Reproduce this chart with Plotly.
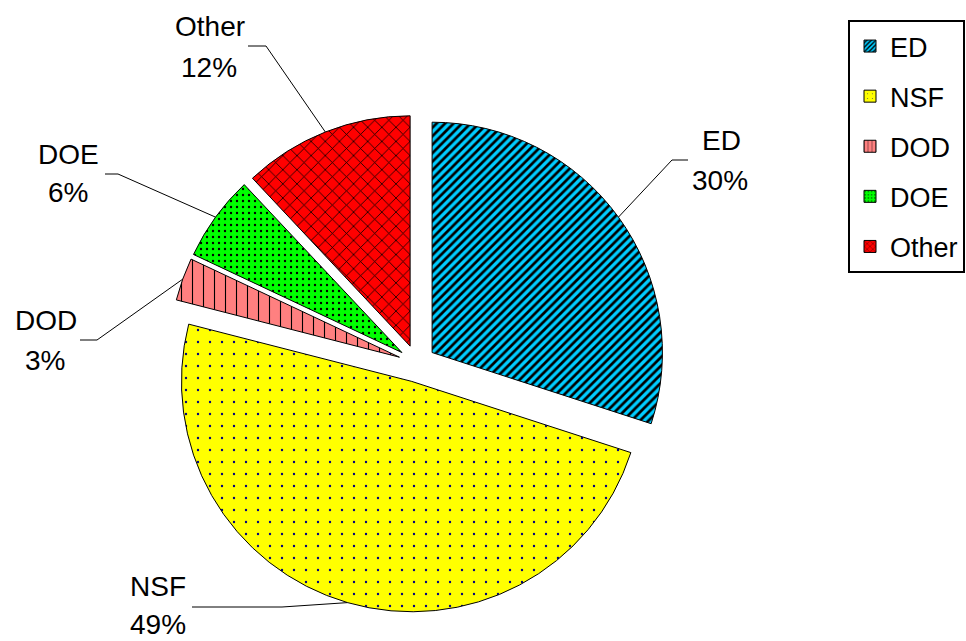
import math
import plotly.graph_objects as go

# ---- data ----
labels = ["ED", "NSF", "DOD", "DOE", "Other"]
values = [30, 49, 3, 6, 12]

# ---- style ----
W, H = 966, 641
colors = ["#00CCFF", "#FFFF00", "#FF8080", "#00FF00", "#FF0000"]
pat_shapes = ["/", ".", "|", ".", "x"]
pat_fg = ["#000000", "#000080", "#000000", "#000000", "#000000"]
pat_size = [6, 12, 11, 6, 10]
pat_solid = [0.45, 0.03, 0.1, 0.12, 0.15]
FONT = "Arial, Liberation Sans, sans-serif"
PIE_BOX = (168, 114.5, 666, 612.5)   # pixel box of pie domain (x0, y0, x1, y1)
PULL = 0.081

# label layout (pixels): name centre, percent centre, elbow, line end
label_layout = {
    "ED":    dict(name=(721, 140), pct=(720, 180), elbow=(672, 160), end=(688, 160)),
    "NSF":   dict(name=(158, 586), pct=(158, 624), elbow=(282, 607), end=(192, 607)),
    "DOD":   dict(name=(46, 320), pct=(45, 360), elbow=(97, 340), end=(80, 340)),
    "DOE":   dict(name=(68, 155), pct=(68, 193), elbow=(118, 174), end=(105, 174)),
    "Other": dict(name=(210, 27), pct=(209, 67), elbow=(266, 46), end=(248, 46)),
}


def px(x):
    return x / W


def py(y):
    return 1 - y / H


x0, y0, x1, y1 = PIE_BOX
fig = go.Figure()
fig.add_trace(go.Pie(
    labels=labels, values=values, sort=False, direction="clockwise", rotation=0,
    pull=[PULL] * len(values), textinfo="none", hoverinfo="label+percent",
    showlegend=False,
    marker=dict(colors=colors, line=dict(color="black", width=1),
                pattern=dict(shape=pat_shapes, fgcolor=pat_fg, size=pat_size,
                             solidity=pat_solid, fgopacity=1, fillmode="overlay")),
    domain=dict(x=[px(x0), px(x1)], y=[py(y1), py(y0)]),
))

# legend entries (one group each so that spacing can be set)
for lab, c, s, fg, sz, so in zip(labels, colors, pat_shapes, pat_fg, pat_size, pat_solid):
    fig.add_trace(go.Bar(
        x=[None], y=[None], name=lab, legendgroup=lab,
        marker=dict(color=c, line=dict(color="black", width=1),
                    pattern=dict(shape=s, fgcolor=fg, size=max(4, sz // 2), solidity=so,
                                 fgopacity=1)),
    ))

# leader lines + labels computed from values
cx, cy = (x0 + x1) / 2, (y0 + y1) / 2
R = min(x1 - x0, y1 - y0) / (2 + 2 * PULL)
total = sum(values)
cum = 0
shapes, annots = [], []
for lab, v in zip(labels, values):
    mid = (cum + v / 2) / total * 2 * math.pi
    cum += v
    dx, dy = math.sin(mid), -math.cos(mid)
    pcx, pcy = cx + dx * PULL * R, cy + dy * PULL * R
    ax, ay = pcx + dx * R, pcy + dy * R
    L = label_layout[lab]
    ex, ey = L["elbow"]
    nx, ny = L["end"]
    path = f"M {px(ax)} {py(ay)} L {px(ex)} {py(ey)} L {px(nx)} {py(ny)}"
    shapes.append(dict(type="path", path=path, xref="paper", yref="paper",
                       line=dict(color="black", width=1)))
    for key, txt in (("name", lab), ("pct", f"{round(v / total * 100)}%")):
        tx, ty = L[key]
        annots.append(dict(x=px(tx), y=py(ty), xref="paper", yref="paper",
                           text=txt, showarrow=False, xanchor="center", yanchor="middle",
                           font=dict(family=FONT, size=28, color="black")))

fig.update_layout(
    width=W, height=H, margin=dict(l=0, r=0, t=0, b=0),
    paper_bgcolor="white", plot_bgcolor="white",
    xaxis=dict(visible=False), yaxis=dict(visible=False),
    shapes=shapes, annotations=annots,
    legend=dict(x=px(848), y=py(20), xanchor="left", yanchor="top",
                bordercolor="black", borderwidth=2, bgcolor="white",
                font=dict(family=FONT, size=27, color="black"),
                tracegroupgap=12, traceorder="grouped"),
    barmode="overlay",
)

fig.write_html("out.html", config={"displayModeBar": False},
               post_script="document.body.style.margin='0';document.body.style.overflow='hidden';")
